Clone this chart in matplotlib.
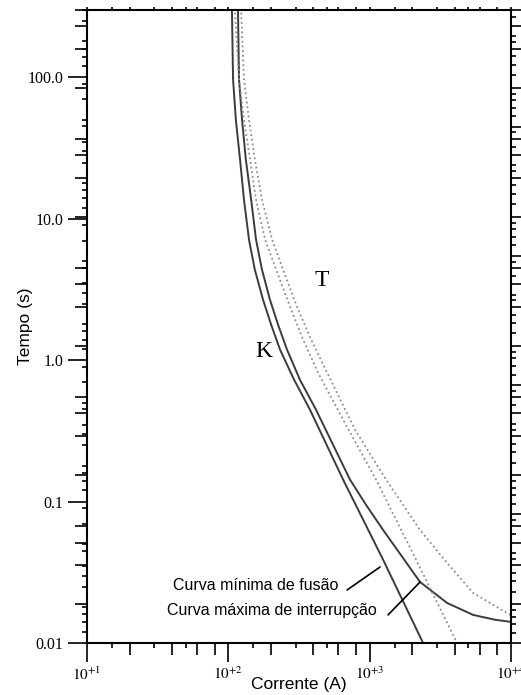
'''
Time-current curves of K and T fuse links (log-log).
'''

import matplotlib
matplotlib.use('Agg')
from matplotlib import pyplot as plt
from matplotlib.ticker import FixedLocator, NullLocator, NullFormatter

plt.rcParams['font.family'] = ['Liberation Sans', 'DejaVu Sans']
plt.rcParams['mathtext.fontset'] = 'stix'

######################
# Curve data: current (A) and time (s)

# K link - minimum melting
k_min_i = [106, 108, 113, 121, 129, 140, 154, 176, 201, 232, 292, 378, 649, 1245, 2388]
k_min_t = [310, 96.8, 50.4, 26.3, 13.7, 7.13, 4.37, 2.68, 1.78, 1.19, 0.728, 0.447, 0.143, 0.0388, 0.010]

# K link - maximum clearing
k_max_i = [117, 119, 125, 133, 145, 157, 173, 197, 225, 260, 321, 417, 726, 943, 1245, 2273, 3530, 5395,
           7714, 10000]
k_max_t = [310, 96.8, 50.4, 26.3, 13.7, 7.13, 4.37, 2.68, 1.78, 1.19, 0.728, 0.447, 0.143, 0.0948, 0.063,
           0.027, 0.0192, 0.0158, 0.0146, 0.0141]

# T link - minimum melting
t_min_i = [111, 119, 129, 142.5, 157, 182, 218, 273, 338, 431, 649, 1110, 2130, 4154]
t_min_t = [310, 96.8, 50.4, 26.3, 13.7, 7.13, 4.37, 2.39, 1.40, 0.817, 0.379, 0.143, 0.0388, 0.010]

# T link - maximum clearing
t_max_i = [123, 129, 140, 154, 173, 204, 244, 306, 385, 500, 789, 1306, 2273, 3530, 5395, 9862]
t_max_t = [310, 96.8, 50.4, 26.3, 13.7, 7.13, 4.37, 2.39, 1.40, 0.817, 0.322, 0.143, 0.063, 0.0368,
           0.0226, 0.0158]

# axis ticks
x_major = [10, 100, 1000, 10000]
x_labels = [r'$10^{+1}$', r'$10^{+2}$', r'$10^{+3}$', r'$10^{+4}$']
y_major = [0.01, 0.1, 1, 10, 100]
y_labels = ['0.01', '0.1', '1.0', '10.0', '100.0']

x_long = [m * d for d in [10, 100, 1000] for m in (2, 4, 6, 8)]
x_short = [m * d for d in [10, 100, 1000] for m in (1.5, 3, 5)]
y_long = [m * d for d in [0.01, 0.1, 1, 10, 100] for m in (2, 4, 6, 8)]
y_short = [m * d for d in [0.01, 0.1, 1, 10, 100]
           for m in (1.2, 1.4, 1.6, 1.8, 2.5, 3, 3.5, 4.5, 5, 7, 9)]

######################

W, H = 521, 695
rect = [87 / W, 1 - 643 / H, (511 - 87) / W, (643 - 10) / H]
xlim = (10, 1e4)
ylim = (0.01, 300)

fig = plt.figure(figsize=(W / 100, H / 100), dpi=100)
ax = fig.add_axes(rect)
ax.set_xscale('log')
ax.set_yscale('log')

solid = dict(color='#3c3c3c', lw=1.4, solid_capstyle='butt')
dotted = dict(color='#8c8c8c', lw=1.3, linestyle=(0, (1, 1.6)))
ax.plot(k_min_i, k_min_t, **solid)
ax.plot(k_max_i, k_max_t, **solid)
ax.plot(t_min_i, t_min_t, **dotted)
ax.plot(t_max_i, t_max_t, **dotted)

ax.set_xlim(*xlim)
ax.set_ylim(*ylim)

ax.set_xticks(x_major, x_labels, fontsize=11)
ax.set_yticks(y_major, y_labels, fontsize=11.5, fontfamily='Liberation Serif')
ax.xaxis.set_minor_locator(FixedLocator(x_short))
ax.yaxis.set_minor_locator(FixedLocator(y_short))
ax.xaxis.set_minor_formatter(NullFormatter())
ax.yaxis.set_minor_formatter(NullFormatter())
ax.tick_params(which='major', direction='out', length=14, width=1.2, pad=2)
ax.tick_params(which='minor', direction='out', length=3.5, width=1.2)
ax.tick_params(axis='y', pad=3)
for s in ax.spines.values():
    s.set_linewidth(1.5)

# medium ticks on left / bottom
ax_long = fig.add_axes(rect, frameon=False)
# ticks on top / right
ax_tr = fig.add_axes(rect, frameon=False)
for a, xt, yt in [(ax_long, x_long, y_long), (ax_tr, x_major + x_long, y_major + y_long)]:
    a.set_xscale('log')
    a.set_yscale('log')
    a.set_xlim(*xlim)
    a.set_ylim(*ylim)
    a.patch.set_alpha(0)
    a.set_xticks(xt, [''] * len(xt))
    a.set_yticks(yt, [''] * len(yt))
    a.xaxis.set_minor_locator(NullLocator())
    a.yaxis.set_minor_locator(NullLocator())
ax_long.tick_params(direction='out', length=8.5, width=1.2)
ax_tr.xaxis.set_minor_locator(FixedLocator(x_short))
ax_tr.yaxis.set_minor_locator(FixedLocator(y_short))
ax_tr.xaxis.set_minor_formatter(NullFormatter())
ax_tr.yaxis.set_minor_formatter(NullFormatter())
ax_tr.tick_params(which='both', direction='out', width=1.2,
                  left=False, bottom=False, top=True, right=True,
                  labelleft=False, labelbottom=False)
ax_tr.tick_params(axis='x', which='both', length=2.5)
ax_tr.tick_params(axis='y', which='major', length=7)
ax_tr.tick_params(axis='y', which='minor', length=3.5)

ax.set_xlabel('Corrente (A)', fontsize=12.5)
ax.set_ylabel('Tempo (s)', fontsize=12.5)
ax.xaxis.set_label_coords(0.5, -0.054)
ax.yaxis.set_label_coords(-0.128, 0.5)

# curve letters
ax.text(179, 1.15, 'K', fontsize=17, fontfamily='Liberation Serif', ha='center', va='center')
ax.text(460, 3.66, 'T', fontsize=17, fontfamily='Liberation Serif', ha='center', va='center')

# labels with pointer lines
pointer = dict(arrowstyle='-', color='black', lw=1.2, shrinkA=0, shrinkB=0)
ax.annotate('', xy=(1185, 0.0345), xytext=(692, 0.0237), arrowprops=pointer)
ax.annotate('', xy=(2273, 0.0270), xytext=(1349, 0.0158), arrowprops=pointer)
ax.text(598, 0.0254, 'Curva mínima de fusão', ha='right', va='center', fontsize=11.5)
ax.text(1128, 0.01686, 'Curva máxima de interrupção', ha='right', va='center', fontsize=11.5)

fig.savefig('out.png', dpi=100)
